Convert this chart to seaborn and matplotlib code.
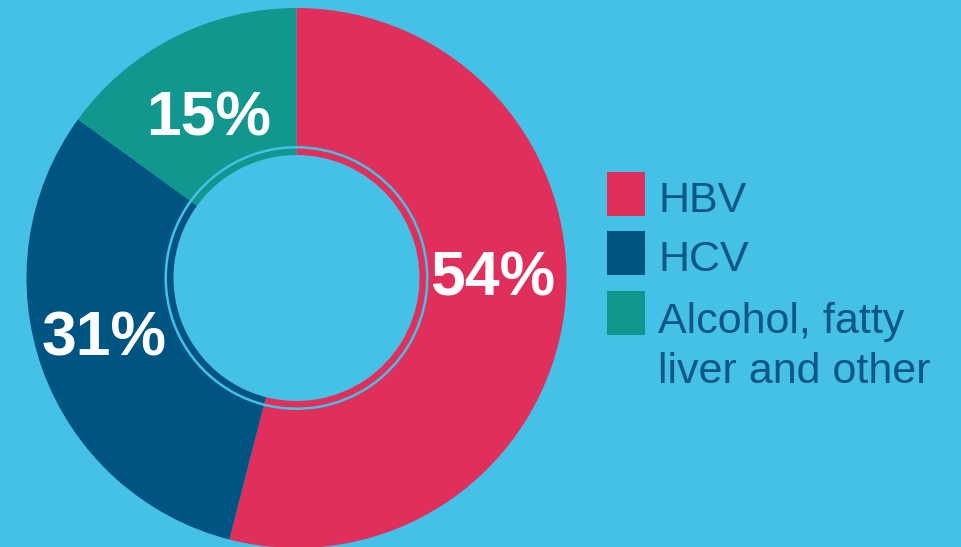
import matplotlib
matplotlib.use("Agg")
import matplotlib.pyplot as plt
import seaborn as sns
from matplotlib.patches import Rectangle

# data
categories = ["HBV", "HCV", "Alcohol, fatty\nliver and other"]
shares = [54, 31, 15]
pct_labels = ["54%", "31%", "15%"]

# colours
slice_colors = ["#E02F5A", "#005482", "#12978F"]
bg_color = "#45C0E7"
legend_text_color = "#0B5785"

sns.set_theme(style="white")
plt.rcParams["font.family"] = ["Liberation Sans", "DejaVu Sans"]

W, H = 961, 547
fig = plt.figure(figsize=(W / 100, H / 100), dpi=100, facecolor=bg_color)
ax = fig.add_axes([0, 0, 1, 1])
ax.set_facecolor(bg_color)

center = (296.5, H - 278)

# outer donut
ax.pie(shares, colors=slice_colors, startangle=90, counterclock=False,
       radius=270, center=center, frame=True,
       wedgeprops=dict(width=138, linewidth=0))
# thin inner ring, separated by a light gap
ax.pie(shares, colors=slice_colors, startangle=90, counterclock=False,
       radius=129.5, center=center, frame=True,
       wedgeprops=dict(width=6.5, linewidth=0))
ax.set_xlim(0, W)
ax.set_ylim(0, H)
ax.set_aspect("equal")
ax.axis("off")

# percentage labels (baseline positions in px from top)
label_pos = [(492.5, 295), (104.5, 355), (208.5, 135)]
for (x, y), txt in zip(label_pos, pct_labels):
    ax.text(x, H - y, txt, color="white", fontsize=45, fontweight="bold",
            ha="center", va="baseline")

# legend drawn by hand
sq_x, sq_w, sq_h = 607, 38, 44
sq_tops = [172, 231, 291]
line_gap = 51.7
for top, color, name in zip(sq_tops, slice_colors, categories):
    ax.add_patch(Rectangle((sq_x, H - top - sq_h), sq_w, sq_h,
                           facecolor=color, edgecolor="none"))
    n_lines = name.count("\n") + 1
    base = top + 40 + (n_lines - 1) * line_gap
    ax.text(658, H - base, name, color=legend_text_color, fontsize=31,
            ha="left", va="baseline", linespacing=1.32)

fig.savefig("out.png", dpi=100, facecolor=bg_color)
